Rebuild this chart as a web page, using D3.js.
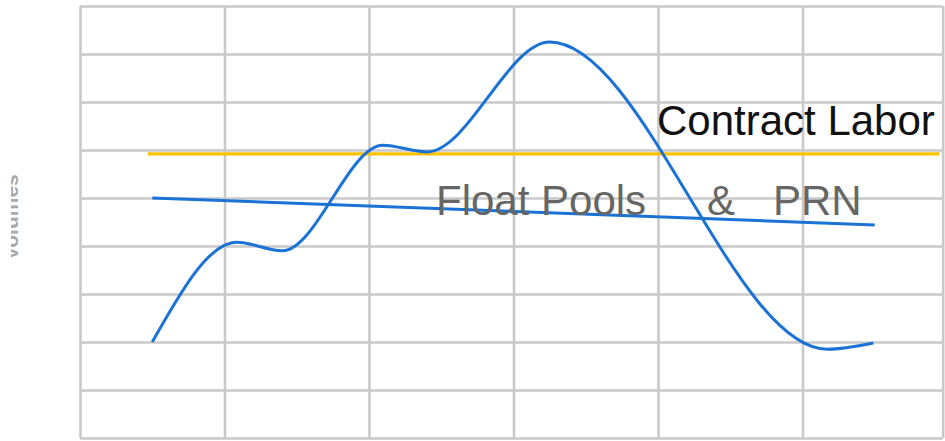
<!DOCTYPE html>
<html>
<head>
<meta charset="utf-8">
<script src="https://cdn.jsdelivr.net/npm/d3@7"></script>
<style>
  html, body { margin: 0; padding: 0; background: #fff; }
  svg { display: block; }
</style>
</head>
<body>
<svg id="chart" width="945" height="441"></svg>
<script>
// ---- data ----
const xGridTicks = [0, 2, 4, 6, 8, 10, 11.94];
const yGridTicks = [0, 1, 2, 3, 4, 5, 6, 7, 8, 9];

// main volume curve (x in category units, y in volume units)
const volumeX = [1.0, 2.17, 2.8, 4.19, 4.80, 6.5, 10.34, 10.98];
const volumeY = [2.0, 4.08, 3.9, 6.10, 5.96, 8.25, 1.85, 1.98];

// Float Pools & PRN trend
const floatX = [1, 11];
const floatY = [5.0, 4.44];

// Contract Labor level
const contractX = [0.94, 11.89];
const contractY = [5.92, 5.92];

const yAxisLabel = "Volumes";
const contractLabel = "Contract Labor";
const floatLabels = ["Float Pools", "&", "PRN"];

// ---- layout ----
const svg = d3.select("#chart");
const plotLeft = 80, plotRight = 947, plotTop = 6, plotBottom = 438;

const x = d3.scaleLinear().domain([0, 12]).range([plotLeft, plotRight]);
const y = d3.scaleLinear().domain([0, 9]).range([plotBottom, plotTop]);

const gridColor = "#c9c9c9";

// vertical grid
const gx = svg.append("g")
  .attr("transform", `translate(0,${plotBottom})`)
  .call(d3.axisBottom(x).tickValues(xGridTicks).tickSize(-(plotBottom - plotTop)).tickFormat(""));
gx.select(".domain").remove();
gx.selectAll(".tick line").attr("stroke", gridColor).attr("stroke-width", 2.6);

// horizontal grid
const gy = svg.append("g")
  .attr("transform", `translate(${plotLeft},0)`)
  .call(d3.axisLeft(y).tickValues(yGridTicks).tickSize(-(x(11.94) - plotLeft)).tickFormat(""));
gy.select(".domain").remove();
gy.selectAll(".tick line").attr("stroke", gridColor).attr("stroke-width", 2.6);

// y-axis label (partially clipped)
svg.append("clipPath").attr("id", "lblclip")
  .append("rect").attr("x", 11).attr("y", 0).attr("width", 40).attr("height", 441);
svg.append("g").attr("clip-path", "url(#lblclip)")
  .append("text")
  .attr("transform", `translate(18,${y(4.6)}) rotate(-90)`)
  .attr("text-anchor", "middle")
  .attr("font-family", "Liberation Sans, Arial, sans-serif")
  .attr("font-weight", "bold")
  .attr("font-size", 21)
  .attr("fill", "#a9a9a9")
  .text(yAxisLabel);

const lineGen = d3.line().x(d => x(d[0])).y(d => y(d[1]));

// contract labor line
svg.append("path")
  .datum(d3.zip(contractX, contractY))
  .attr("d", lineGen)
  .attr("fill", "none")
  .attr("stroke", "#ffc000")
  .attr("stroke-width", 3.2);

// float pools line
svg.append("path")
  .datum(d3.zip(floatX, floatY))
  .attr("d", lineGen)
  .attr("fill", "none")
  .attr("stroke", "#1a72d6")
  .attr("stroke-width", 3);

// volume curve
svg.append("path")
  .datum(d3.zip(volumeX, volumeY))
  .attr("d", d3.line().x(d => x(d[0])).y(d => y(d[1])).curve(d3.curveMonotoneX))
  .attr("fill", "none")
  .attr("stroke", "#1a72d6")
  .attr("stroke-width", 3);

// labels
const font = "Liberation Sans, Arial, sans-serif";
svg.append("text")
  .attr("x", 657).attr("y", 135)
  .attr("font-family", font).attr("font-size", 42)
  .attr("fill", "#111")
  .text(contractLabel);

const floatPos = [436, 707, 773];
floatLabels.forEach((t, i) => {
  svg.append("text")
    .attr("x", floatPos[i]).attr("y", 215)
    .attr("font-family", font).attr("font-size", 42)
    .attr("fill", "#666")
    .text(t);
});
</script>
</body>
</html>
